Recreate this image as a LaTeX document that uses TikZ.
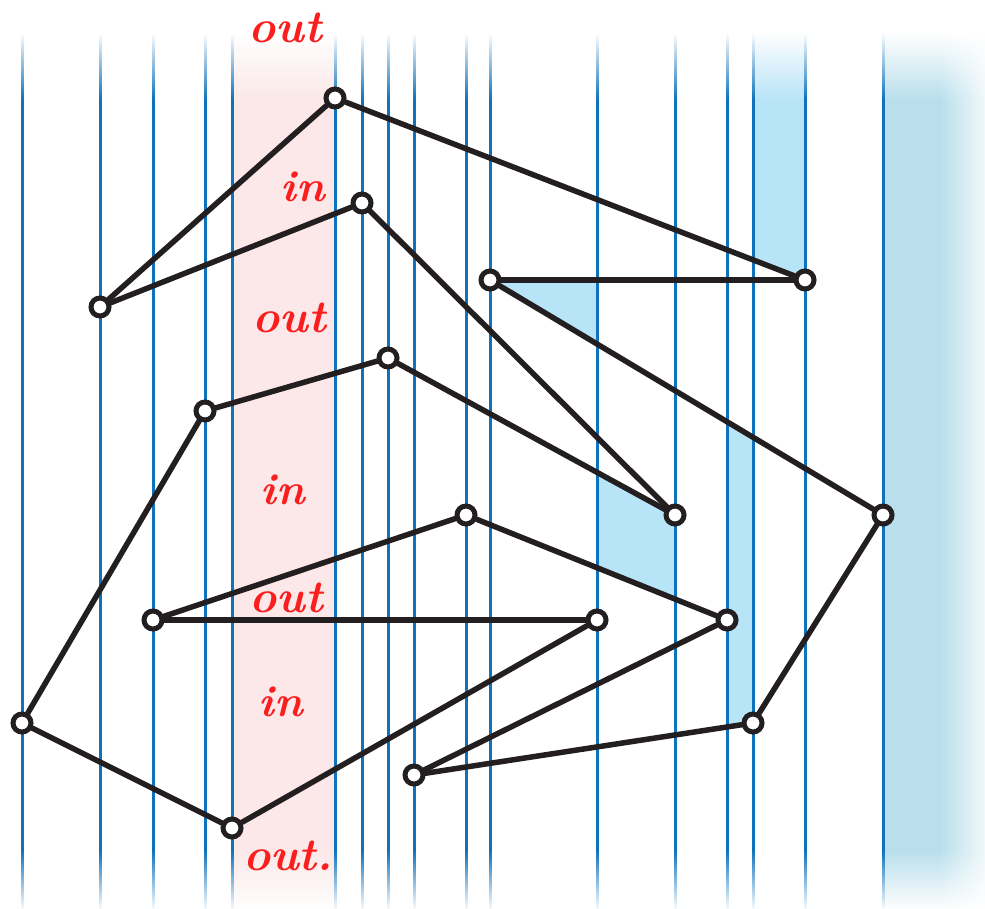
\documentclass[tikz,border=0pt]{standalone}
\usetikzlibrary{fadings}
\definecolor{vline}{RGB}{14,114,189}
\definecolor{lblue}{RGB}{184,228,248}
\definecolor{rband}{RGB}{185,223,236}
\definecolor{pinkband}{RGB}{252,232,232}
\definecolor{edgec}{RGB}{35,31,32}
\definecolor{inkred}{RGB}{250,30,30}
\tikzfading[name=fadeTopW, top color=transparent!0, bottom color=transparent!100]
\tikzfading[name=fadeBotW, top color=transparent!100, bottom color=transparent!0]
\tikzset{
 vert/.style={draw=vline, line width=3pt},
 edge/.style={draw=edgec, line width=5.5pt, line cap=round},
 vtx/.style={circle, draw=edgec, fill=white, line width=5pt, minimum size=18pt, inner sep=0pt},
 lbl/.style={text=inkred, font=\fontsize{46}{46}\selectfont\bfseries\itshape, inner sep=0pt},
 lbls/.style={text=inkred, font=\fontsize{44}{44}\selectfont\bfseries\itshape, inner sep=0pt},
}
\begin{document}
\begin{tikzpicture}[x=1pt,y=-1pt]
\useasboundingbox (0,0) rectangle (985,909);
\fill[white] (0,0) rectangle (985,909);
\fill[pinkband] (232,0) rectangle (335,909);
\fill[rband] (883,0) rectangle (940,909);
\shade[left color=rband, right color=rband!20] (940,0) rectangle (985,909);
\fill[lblue] (753,0) -- (805,0) -- (805,280) -- (753,260) -- cycle;
\fill[lblue] (490,280) -- (597,280) -- (597,344) -- cycle;
\fill[lblue] (597,472) -- (675,515) -- (675,599) -- (597,568) -- cycle;
\fill[lblue] (727,422) -- (753,437) -- (753,723) -- (727,727) -- cycle;
\foreach \x in {22,100,153,205,232,335,362,388,414,466,490,597,675,727,753,805,883}
  \draw[vert] (\x,0) -- (\x,909);
\fill[white] (-1,-1) rectangle (986,33);
\fill[white, path fading=fadeTopW] (-1,33) rectangle (986,100);
\fill[white, path fading=fadeBotW] (-1,850) rectangle (986,910);
% vertices
\node[vtx] (A) at (335,98) {};
\node[vtx] (B) at (100,307) {};
\node[vtx] (C) at (362,203) {};
\node[vtx] (D) at (675,515) {};
\node[vtx] (E) at (388,358) {};
\node[vtx] (F) at (205,411) {};
\node[vtx] (G) at (22,723) {};
\node[vtx] (H) at (232,828) {};
\node[vtx] (I) at (597,620) {};
\node[vtx] (J) at (153,620) {};
\node[vtx] (K) at (466,515) {};
\node[vtx] (L) at (727,620) {};
\node[vtx] (M) at (414,775) {};
\node[vtx] (N) at (753,723) {};
\node[vtx] (O) at (883,515) {};
\node[vtx] (P) at (490,280) {};
\node[vtx] (Q) at (805,280) {};
\draw[edge] (A) -- (B);
\draw[edge] (B) -- (C);
\draw[edge] (C) -- (D);
\draw[edge] (D) -- (E);
\draw[edge] (E) -- (F);
\draw[edge] (F) -- (G);
\draw[edge] (G) -- (H);
\draw[edge] (H) -- (I);
\draw[edge] (I) -- (J);
\draw[edge] (J) -- (K);
\draw[edge] (K) -- (L);
\draw[edge] (L) -- (M);
\draw[edge] (M) -- (N);
\draw[edge] (N) -- (O);
\draw[edge] (O) -- (P);
\draw[edge] (P) -- (Q);
\draw[edge] (Q) -- (A);
% labels
\node[lbl] (t1) at (285,28) {out};
\node[lbls] (t2) at (303,187) {in};
\node[lbl] (t3) at (289,318) {out};
\node[lbls] (t4) at (283,490) {in};
\node[lbl] (t5) at (286,598) {out};
\node[lbls] (t6) at (281,702) {in};
\node[lbl] (t7) at (288,856) {out.};
\end{tikzpicture}
\end{document}
